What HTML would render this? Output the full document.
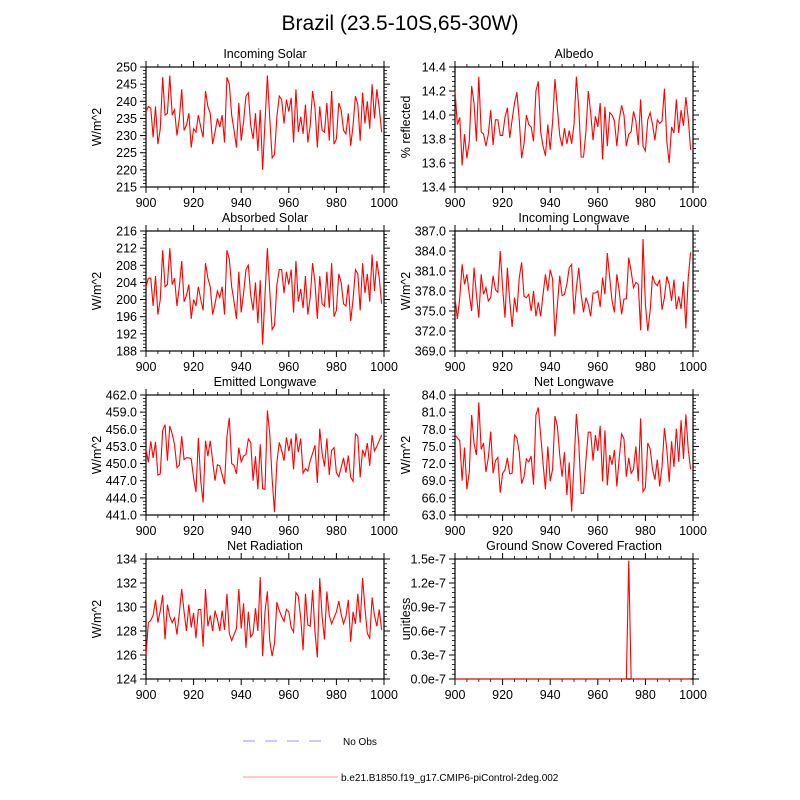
<!DOCTYPE html>
<html><head><meta charset="utf-8"><style>
body{margin:0;background:#fff;}
svg{display:block;font-family:"Liberation Sans",sans-serif;}
</style></head><body>
<svg id="chart" width="800" height="800" viewBox="0 0 800 800" xmlns="http://www.w3.org/2000/svg">
<rect width="800" height="800" fill="#fff"/>
<text x="400" y="30" font-size="21" text-anchor="middle">Brazil (23.5-10S,65-30W)</text>
<g>
<line x1="243" y1="741" x2="330" y2="741" stroke="#aaaaff" stroke-width="1.3" stroke-dasharray="12,10"/>
<text x="343" y="745" font-size="10">No Obs</text>
<line x1="243" y1="777" x2="338" y2="777" stroke="#ffaaaa" stroke-width="1.3"/>
<text x="341" y="781" font-size="10">b.e21.B1850.f19_g17.CMIP6-piControl-2deg.002</text>
</g>
</svg>
<script>
const years = Array.from({length:100},(_, i)=>900+i);
const incomingSolar=[237,238.5,238,229.5,238.5,227.5,232,247,236,236.5,247.5,236,237.5,230,235,243.5,231.5,233,236.5,226.5,232,231,236,232.5,229.5,243,238.5,236.5,227.5,231,235,232.5,236,228,247,245,236,231.5,226.5,239.5,228.5,234,241.5,242.5,233,229,236.5,225.5,237.5,220,234,247.5,235,223.5,224.5,235.5,241.5,240.5,233.5,240.5,237,241,228,243.5,231,235.5,230.5,239,228,233,243,238,226.5,238.5,231.5,231,239.5,228.5,243,227.5,229,239.5,237.5,231.5,230.5,236.5,227,233,241.5,239,228.5,242.5,233.5,240,232,245,235,243.5,238,231];
const albedo=[14.2,13.92,13.98,13.58,13.84,13.64,13.78,14.24,14.1,13.78,14.32,13.86,13.84,13.74,13.84,14.04,13.75,13.96,13.96,13.83,13.83,13.98,14.06,13.81,13.96,14.1,14.19,13.96,13.64,13.76,14.0,13.92,13.9,13.78,14.2,14.28,13.86,13.74,13.66,13.92,13.71,13.94,14.3,14.06,13.83,13.74,13.89,13.76,13.87,13.76,13.92,14.32,14.06,13.65,13.65,13.86,14.2,14.02,13.79,13.99,13.9,14.1,13.63,14.07,13.74,14.02,14.0,13.95,13.74,13.96,14.08,14.0,13.74,13.84,13.86,14.03,13.95,13.75,14.13,13.74,13.7,13.96,14.02,13.92,13.79,13.96,13.93,13.95,14.22,13.78,13.6,13.9,13.85,14.13,13.85,14.04,13.91,14.15,13.97,13.71];
const absorbedSolar=[203,205,205,198.5,205.5,196.5,200,211.5,203,203.5,212,203.5,205,198.5,203,209,199.5,201,203.5,195.5,200,198.5,203,200,197.5,208.5,205,203,196.5,199,202,200.5,203,196.5,211.5,209.5,203,199.5,195.5,206.5,197,201.5,207,208,201,197.5,204,194.5,204.5,189.5,201,212,202,193,194,203.5,207,207,201.5,206.5,203.5,207,197,209,199.5,202.5,198,205.5,196.5,200.5,208.5,204,195.5,205.5,199,198.5,206.5,198,208.5,196,197.5,206,204,199,198.5,203.5,195,200,207,206,197.5,208.5,201.5,206,199.5,210.5,202,209,205,199];
const incomingLW=[377,373.8,377,382,379,380.5,377.5,375,381.5,377.5,374,380.5,377.5,378.5,376.5,377,380.3,378.2,377.8,384,378.5,374,381.5,376.5,372.6,377,374.8,380,382.3,377.2,377,377.5,375,378,374.2,376.3,374.2,377.5,380.5,378,381.2,379.8,371.2,375.8,380.3,377.3,377.5,379,381.5,382,374.5,378.5,381.5,377.5,374.8,377,376,374.2,377.7,377.7,378,375.6,380,377.5,383.7,380,376.5,374.8,380.5,378,374.5,376.8,376.8,383,381,378.5,379.3,379,372.1,385.8,376,372,375,380.3,379.2,378.8,379.7,375.2,377,380.2,379,376.5,379.7,375.3,377.2,375.3,379.4,372.4,380,383.8];
const emittedLW=[452.5,450.2,453.9,451,453.8,448,448.2,455.8,456.8,450.5,456.6,455.2,453.3,449.3,449.7,454.8,450.7,451,451,450.8,447.5,445,454.5,447,443.2,454,451.3,454,450.5,447,449.8,449.6,448,446.4,454.7,458,450,449.7,448.2,452.8,450.3,451.3,451.6,454.3,453.7,447,451.3,445.5,453.4,445.6,445.5,459.3,455.2,447.3,441.5,450.3,453.7,452.3,450.5,454.6,452.2,454.4,449,455.3,452,454.4,448.3,449.1,448.7,450.5,451.8,453.2,446.6,456.1,451.8,449.5,454.4,448,452.3,452.8,448.4,447.7,449.3,451,448.4,451.4,447.6,446.9,455.2,454.8,447.6,452.4,451.3,453.6,449.6,455,452.2,453,454,455];
const netLW=[77,76.5,76,69,74.8,67.5,70.5,80.5,75.5,73.5,82.7,74.5,75.6,70.5,73,77.6,70.3,72.5,73.1,66.9,70.3,70.9,73,70.2,70.3,77,76.5,74,68.5,69.7,72.8,72.3,73.3,68.3,80.5,81.8,77,72,67.5,75,68.9,71,80.3,78.6,73.5,69.7,74,66.5,72.2,63.6,72,80.7,75.5,66.8,66.8,72.5,77.5,77.5,72.5,77,74.2,78.6,68.9,77.8,68.2,73.5,71.8,74.4,68,73,77.2,76.3,69.7,73,70.3,71,75,68.9,79.9,67.1,67.8,75.6,74.6,71,69.2,72.7,68,71.5,78.2,74.5,68.8,75.9,71.4,78.1,72.3,79.6,72.8,80.6,74.5,71];
const netRadiation=[126,128.7,128.9,129.3,130.6,128.7,129.7,131,127.3,130.2,129.2,128.7,129.1,127.7,129.5,131.5,129.6,128,130.2,128.3,129.5,127.4,129.8,129.8,126.7,131.5,128.4,129.3,128,129.7,129,128,129.7,128.1,131.1,127.8,127.2,127.7,128.2,131.5,128.2,130.3,126.6,129.6,127.5,127.8,129.9,128,132.5,125.9,129.6,131.3,127.2,125.9,127,130.4,129.7,129.2,128.8,129.8,129.6,128.3,127.9,131.2,130.9,129.1,126.4,131.1,128.5,128.4,131.4,127.9,125.8,132.4,129.2,127.3,131.3,129.3,128.6,129.1,129.6,130.5,129.4,128.6,129.2,130.6,127.1,129.6,128.6,131.1,128.7,132.4,129.9,127.8,127.4,130.8,129.3,128.4,129.8,128.1];
const snowFraction=years.map(y=>0);
snowFraction[73]=1.48e-7;

const xTicks=[900,920,940,960,980,1000];
const incomingSolarTicks=[215,220,225,230,235,240,245,250];
const albedoTicks=[13.4,13.6,13.8,14.0,14.2,14.4];
const absorbedTicks=[188,192,196,200,204,208,212,216];
const incomingLWTicks=[369,372,375,378,381,384,387];
const emittedLWTicks=[441,444,447,450,453,456,459,462];
const netLWTicks=[63,66,69,72,75,78,81,84];
const netRadTicks=[124,126,128,130,132,134];
const snowTicks=[0,0.3e-7,0.6e-7,0.9e-7,1.2e-7,1.5e-7];

const NS="http://www.w3.org/2000/svg";
const svg=document.getElementById('chart');
function el(tag,attrs,parent){const e=document.createElementNS(NS,tag);for(const k in attrs)e.setAttribute(k,attrs[k]);(parent||svg).appendChild(e);return e;}

const panels=[
 {name:'incoming-solar',title:'Incoming Solar',ylab:'W/m^2',data:incomingSolar,ticks:incomingSolarTicks,fmt:v=>v.toFixed(0),x:146,y:67},
 {name:'albedo',title:'Albedo',ylab:'% reflected',data:albedo,ticks:albedoTicks,fmt:v=>v.toFixed(1),x:455,y:67},
 {name:'absorbed-solar',title:'Absorbed Solar',ylab:'W/m^2',data:absorbedSolar,ticks:absorbedTicks,fmt:v=>v.toFixed(0),x:146,y:231},
 {name:'incoming-longwave',title:'Incoming Longwave',ylab:'W/m^2',data:incomingLW,ticks:incomingLWTicks,fmt:v=>v.toFixed(1),x:455,y:231},
 {name:'emitted-longwave',title:'Emitted Longwave',ylab:'W/m^2',data:emittedLW,ticks:emittedLWTicks,fmt:v=>v.toFixed(1),x:146,y:395},
 {name:'net-longwave',title:'Net Longwave',ylab:'W/m^2',data:netLW,ticks:netLWTicks,fmt:v=>v.toFixed(1),x:455,y:395},
 {name:'net-radiation',title:'Net Radiation',ylab:'W/m^2',data:netRadiation,ticks:netRadTicks,fmt:v=>v.toFixed(0),x:146,y:559},
 {name:'ground-snow-fraction',title:'Ground Snow Covered Fraction',ylab:'unitless',data:snowFraction,ticks:snowTicks,fmt:v=>(v*1e7).toFixed(1)+'e-7',x:455,y:559}
];
const W=238,H=120;
panels.forEach(p=>{
 const g=el('g',{});
 
 
 const y0=p.ticks[0],y1=p.ticks[p.ticks.length-1];
 const sx=v=>p.x+(v-900)/100*W;
 const sy=v=>p.y+H-(v-y0)/(y1-y0)*H;
 // minor ticks
 const step=p.ticks[1]-p.ticks[0];
 for(let i=0;i<p.ticks.length-1;i++){for(let k=1;k<5;k++){const yy=sy(p.ticks[i]+step*k/5);
  el('line',{x1:p.x-3,x2:p.x,y1:yy,y2:yy,stroke:'#000','stroke-width':0.8},g);
  el('line',{x1:p.x+W,x2:p.x+W+3,y1:yy,y2:yy,stroke:'#000','stroke-width':0.8},g);}}
 for(let yr=905;yr<1000;yr+=5){if(yr%20===0)continue;const xx=sx(yr);
  el('line',{x1:xx,x2:xx,y1:p.y+H,y2:p.y+H+3,stroke:'#000','stroke-width':0.8},g);
  el('line',{x1:xx,x2:xx,y1:p.y-3,y2:p.y,stroke:'#000','stroke-width':0.8},g);}
 p.ticks.forEach(t=>{const yy=sy(t);
  el('line',{x1:p.x-6,x2:p.x,y1:yy,y2:yy,stroke:'#000','stroke-width':1},g);
  el('line',{x1:p.x+W,x2:p.x+W+6,y1:yy,y2:yy,stroke:'#000','stroke-width':1},g);
  const tl=el('text',{x:p.x-9,y:yy+4.5,'font-size':12.5,'text-anchor':'end'},g);
  
  
  tl.textContent=p.fmt(t);});
 xTicks.forEach(t=>{const xx=sx(t);
  el('line',{x1:xx,x2:xx,y1:p.y+H,y2:p.y+H+6,stroke:'#000','stroke-width':1},g);
  el('line',{x1:xx,x2:xx,y1:p.y-6,y2:p.y,stroke:'#000','stroke-width':1},g);
  const tl=el('text',{x:xx,y:p.y+H+20,'font-size':12.5,'text-anchor':'middle'},g);
  
  
  tl.textContent=String(t);});
 const fr=el('rect',{x:p.x,y:p.y,width:W,height:H,fill:'none',stroke:'#000','stroke-width':1.2},g);
 
 
 const pts=p.data.map((v,i)=>sx(years[i]).toFixed(2)+','+sy(v).toFixed(2)).join(' ');
 const ln=el('polyline',{points:pts,fill:'none',stroke:'#ff0000','stroke-width':1.1},g);
 
 
 const tt=el('text',{x:p.x+W/2,y:p.y-9,'font-size':12.5,'text-anchor':'middle'},g);
 
 
 tt.textContent=p.title;
 const yl=el('text',{x:0,y:0,'font-size':12.5,'text-anchor':'middle',transform:`translate(${p.x-45},${p.y+H/2}) rotate(-90)`},g);
 
 
 yl.textContent=p.ylab;
});
</script>
</body></html>
